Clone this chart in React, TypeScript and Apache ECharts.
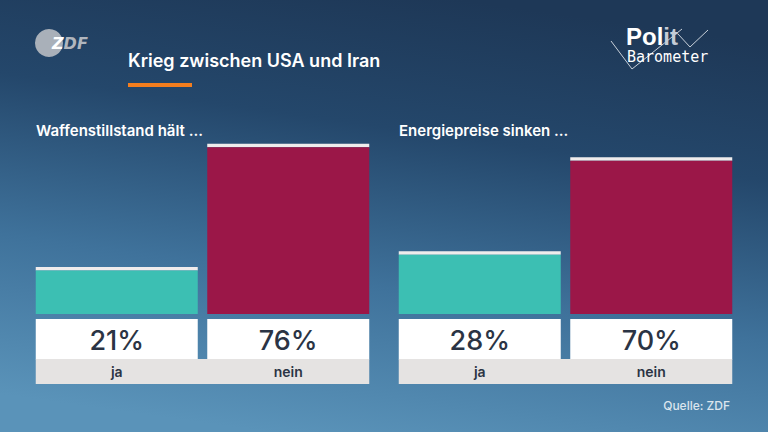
import React, { useEffect, useRef } from "react";
import * as echarts from "echarts";

const categories = ["ja", "nein"];
const waffenstillstand = [21, 76];
const energiepreise = [28, 70];
const panelTitles = ["Waffenstillstand hält ...", "Energiepreise sinken ..."];
const barColors = ["#3cbfb3", "#9b1748"];
const chartTitle = "Krieg zwischen USA und Iran";
const sourceText = "Quelle: ZDF";

const W = 768;
const H = 432;
const GRID_TOP = 90;
const GRID_H = 224;
const GRID_W = 343;
const GRID_LEFTS = [31, 394];
const BAR_RATIO = 162 / 171.5;
const CAP = 3.5;
const DARK = "#2b3444";
const FONT = "Inter, 'Noto Sans', sans-serif";

function makeRenderItem() {
  return (params: any, api: any) => {
    const idx = api.value(0);
    const val = api.value(1);
    const top = api.coord([idx, val]);
    const base = api.coord([idx, 0]);
    const band = api.size([1, 0])[0];
    const w = band * BAR_RATIO;
    const gap = band - w;
    const x = base[0] - w / 2;
    const last = categories.length - 1;
    const extL = idx === 0 ? 0 : gap / 2 + 0.5;
    const extR = idx === last ? 0 : gap / 2 + 0.5;
    return {
      type: "group",
      children: [
        {
          type: "rect",
          shape: { x, y: top[1], width: w, height: CAP },
          style: { fill: "#efecec" },
        },
        {
          type: "rect",
          shape: { x, y: top[1] + CAP, width: w, height: base[1] - top[1] - CAP },
          style: { fill: barColors[idx] },
        },
        {
          type: "rect",
          shape: { x, y: base[1] + 5, width: w, height: 40.5 },
          style: { fill: "#ffffff" },
        },
        {
          type: "rect",
          shape: { x: x - extL, y: base[1] + 45, width: w + extL + extR, height: 25 },
          style: { fill: "#e5e3e2" },
        },
        {
          type: "text",
          x: base[0],
          y: base[1] + 26,
          style: {
            text: val + "%",
            fill: DARK,
            fontSize: 27,
            fontWeight: 500,
            fontFamily: FONT,
            align: "center",
            verticalAlign: "middle",
          },
        },
      ],
    };
  };
}

export default function App() {
  const ref = useRef<HTMLDivElement>(null);
  useEffect(() => {
    if (!ref.current) return;
    const chart = echarts.init(ref.current, undefined, { renderer: "svg" });
    const datasets = [waffenstillstand, energiepreise];
    const option: any = {
      animation: false,
      grid: GRID_LEFTS.map((l) => ({ left: l, top: GRID_TOP, width: GRID_W, height: GRID_H })),
      xAxis: GRID_LEFTS.map((_, i) => ({
        type: "category",
        gridIndex: i,
        data: categories,
        z: 5,
        axisLine: { show: false },
        axisTick: { show: false },
        splitLine: { show: false },
        axisLabel: {
          margin: 57,
          verticalAlign: "middle",
          color: DARK,
          fontSize: 14,
          fontWeight: 600,
          fontFamily: FONT,
        },
      })),
      yAxis: GRID_LEFTS.map((_, i) => ({
        type: "value",
        gridIndex: i,
        min: 0,
        max: 100,
        show: false,
        splitLine: { show: false },
      })),
      series: datasets.map((d, i) => ({
        type: "custom",
        xAxisIndex: i,
        yAxisIndex: i,
        z: 2,
        renderItem: makeRenderItem(),
        data: d.map((v, k) => [k, v]),
      })),
      graphic: [
        {
          type: "rect",
          z: -10,
          silent: true,
          shape: { x: 0, y: 0, width: W, height: H },
          style: {
            fill: new echarts.graphic.LinearGradient(0.6, 0, 0.35, 1, [
              { offset: 0, color: "#1e3857" },
              { offset: 0.3, color: "#24476b" },
              { offset: 0.65, color: "#3f729b" },
              { offset: 1, color: "#5a93b9" },
            ]),
          },
        },
        // ZDF logo
        {
          type: "circle",
          shape: { cx: 49, cy: 43, r: 14 },
          style: { fill: "#a9b0b9" },
        },
        {
          type: "text",
          x: 52,
          y: 43,
          style: {
            text: "{z|Z}{d|DF}",
            verticalAlign: "middle",
            rich: {
              z: { fill: "#ffffff", fontSize: 16, fontWeight: "bold", fontStyle: "italic", fontFamily: "'DejaVu Sans'" },
              d: { fill: "#b0b6be", fontSize: 16, fontWeight: "bold", fontStyle: "italic", fontFamily: "'DejaVu Sans'" },
            },
          },
        },
        // Title
        {
          type: "text",
          x: 128,
          y: 60,
          style: {
            text: chartTitle,
            fill: "#ffffff",
            fontSize: 18,
            fontWeight: 600,
            fontFamily: FONT,
            verticalAlign: "middle",
          },
        },
        {
          type: "rect",
          shape: { x: 128, y: 83, width: 64, height: 4 },
          style: { fill: "#f47e1e" },
        },
        // Politbarometer logo
        {
          type: "polyline",
          shape: { points: [[611, 41], [632, 69], [682, 29]] },
          style: { stroke: "#c9d1da", lineWidth: 1, fill: null },
        },
        {
          type: "polyline",
          shape: { points: [[678, 34], [690, 47], [708, 30]] },
          style: { stroke: "#c9d1da", lineWidth: 1, fill: null },
        },
        {
          type: "text",
          x: 626,
          y: 36.5,
          style: {
            text: "{w|Pol}{g|it}",
            verticalAlign: "middle",
            rich: {
              w: { fill: "#ffffff", fontSize: 24, lineHeight: 20, fontWeight: "bold", fontFamily: "'Liberation Sans'" },
              g: { fill: "#c4ccd6", fontSize: 24, lineHeight: 20, fontWeight: "bold", fontFamily: "'Liberation Sans'" },
            },
          },
        },
        {
          type: "text",
          x: 627,
          y: 57,
          style: {
            text: "Barometer",
            fill: "#ffffff",
            fontSize: 15,
            lineHeight: 13,
            fontFamily: "'DejaVu Sans Mono'",
            verticalAlign: "middle",
          },
        },
        // Panel subtitles
        ...panelTitles.map((t, i) => ({
          type: "text",
          x: [36, 399][i],
          y: 130,
          style: {
            text: t,
            fill: "#ffffff",
            fontSize: 15,
            fontWeight: 600,
            fontFamily: FONT,
            verticalAlign: "middle",
          },
        })),
        {
          type: "text",
          x: 730,
          y: 405,
          style: {
            text: sourceText,
            fill: "#dbe5ee",
            fontSize: 12,
            fontWeight: 500,
            fontFamily: FONT,
            align: "right",
            verticalAlign: "middle",
          },
        },
      ],
    };
    chart.setOption(option);
    return () => chart.dispose();
  }, []);
  return <div ref={ref} style={{ width: W, height: H, position: "absolute", left: 0, top: 0 }} />;
}
